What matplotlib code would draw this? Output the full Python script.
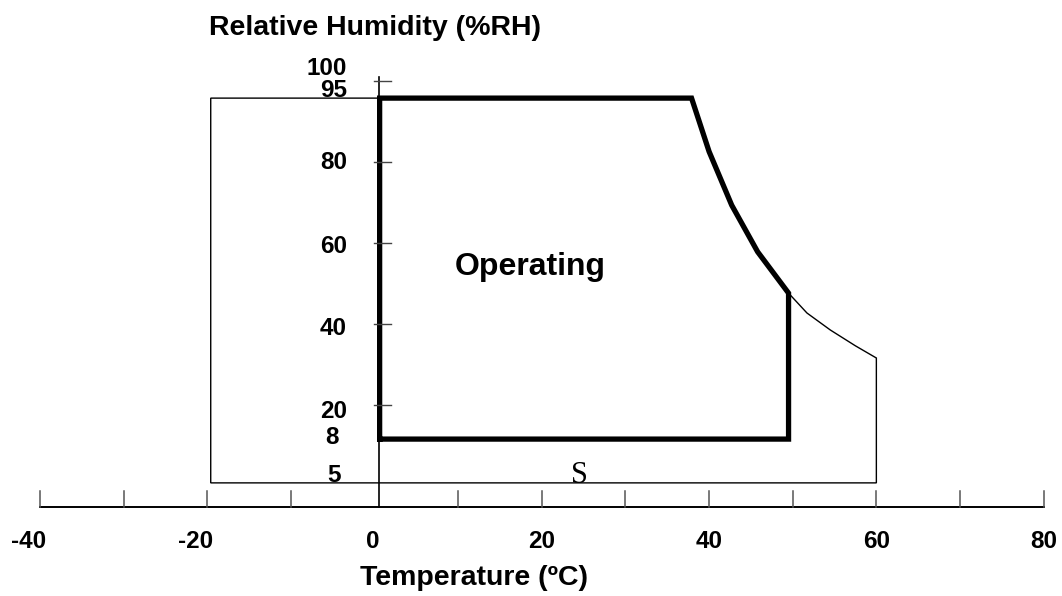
import matplotlib
matplotlib.use("Agg")
import matplotlib.pyplot as plt

# ---- data (schematic drawing coordinates) ----
# x: temperature (°C); y: relative humidity drawing units (%RH)
operating_temp = [0.6, 0.6, 37.9, 40.0, 42.7, 45.8, 49.5, 49.5, 0.6]
operating_rh = [11.6, 95.7, 95.7, 82.5, 69.3, 57.8, 47.6, 11.6, 11.6]

storage_temp = [0.6, -19.6, -19.6, 60.0, 60.0, 57.5, 54.5, 51.7, 49.5]
storage_rh = [95.7, 95.7, 0.8, 0.8, 31.6, 34.6, 38.5, 42.7, 47.6]

x_ticks = [-40, -30, -20, -10, 10, 20, 30, 40, 50, 60, 70, 80]
x_tick_labels = ["-40", "-20", "0", "20", "40", "60", "80"]
x_tick_label_values = [-40, -20, 0, 20, 40, 60, 80]

y_ticks = [100, 80, 60, 40, 20]
y_tick_labels = ["100", "95", "80", "60", "40", "20", "8", "5"]
y_tick_label_values = [103.1, 97.7, 79.7, 59.2, 38.8, 18.3, 12.1, 2.7]

x_axis_range = [-40, 80]
y_axis_range = [-5.1, 100.9]
y_axis_x = 0.55

# ---- figure ----
fig = plt.figure(figsize=(10.62, 5.96), dpi=100)
ax = fig.add_axes([0, 0, 1, 1])
ax.set_xlim(-44.8, 82.2)
ax.set_ylim(-27.1, 119.9)
ax.axis("off")

bold = dict(family="Liberation Sans", weight="bold", color="black")

# storage (thin) outline
ax.plot(storage_temp, storage_rh, color="black", lw=1.0, solid_joinstyle="miter")
# operating (bold) outline
ax.plot(operating_temp, operating_rh, color="black", lw=3.8,
        solid_joinstyle="miter", solid_capstyle="projecting")

# x axis
ax.plot(x_axis_range, [y_axis_range[0]] * 2, color="black", lw=1.4)
for t in x_ticks:
    ax.plot([t, t], [y_axis_range[0], -1.2], color="#555555", lw=1.1)
for v, lab in zip(x_tick_label_values, x_tick_labels):
    shift = -1.4 if v < 0 else (-0.2 if v == 0 else 0)
    ax.text(v + shift, -13.7, lab, ha="center", va="center", fontsize=17.5, **bold)

# y axis
ax.plot([y_axis_x, y_axis_x], y_axis_range, color="black", lw=1.2)
for v in y_ticks:
    ax.plot([-0.06, 1.97], [v, v], color="#444444", lw=1.0)
for v, lab in zip(y_tick_label_values, y_tick_labels):
    if lab == "8":
        ax.text(-5.1, v, lab, ha="center", va="center", fontsize=17.5, **bold)
    elif lab == "5":
        ax.text(-4.8, v, lab, ha="center", va="center", fontsize=17.5, **bold)
    else:
        ax.text(-3.3, v, lab, ha="right", va="center", fontsize=17.5, **bold)

# titles / annotations
ax.text(0.0, 113.0, "Relative Humidity (%RH)", ha="center", va="center",
        fontsize=20.5, **bold)
ax.text(11.9, -22.7, "Temperature (ºC)", ha="center", va="center",
        fontsize=20.5, **bold)
ax.text(18.6, 54.0, "Operating", ha="center", va="center", fontsize=23, **bold)
ax.text(24.5, 2.7, "S", ha="center", va="center", fontsize=22,
        family="Liberation Serif", color="black")

fig.savefig("out.png", dpi=100)
